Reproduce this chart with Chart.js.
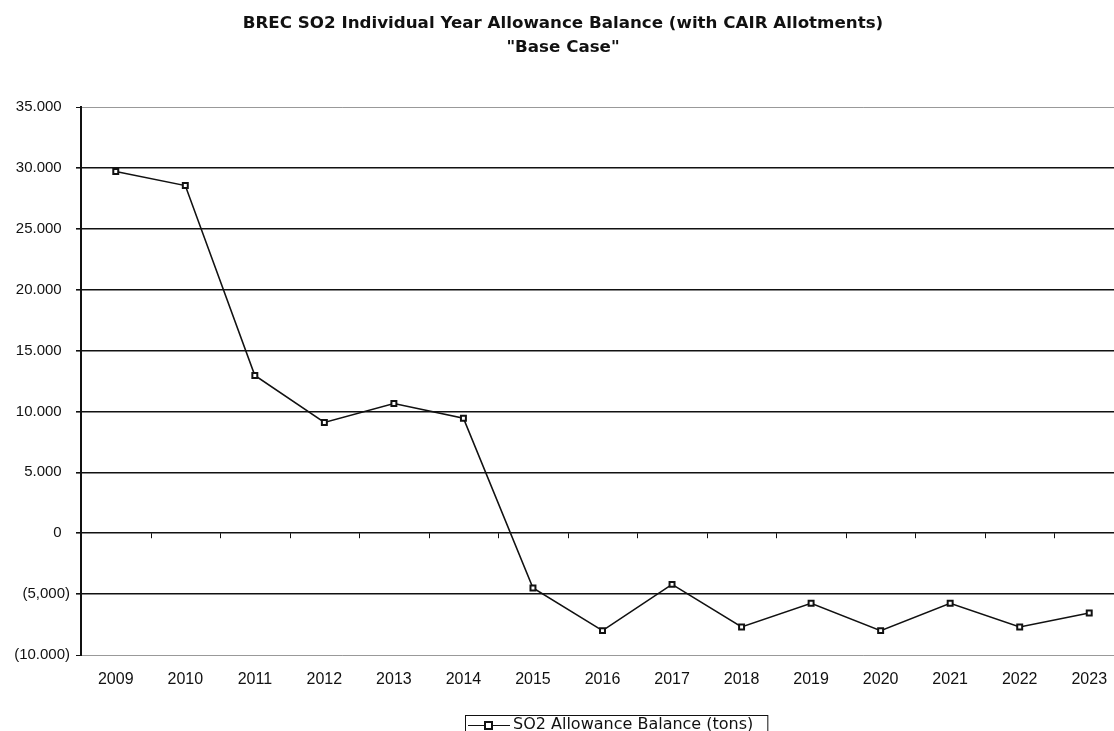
<!DOCTYPE html>
<html><head><meta charset="utf-8">
<script src="https://cdn.jsdelivr.net/npm/chart.js@4"></script>
<style>html,body{margin:0;padding:0;overflow:hidden;background:#fff;width:1114px;height:731px}canvas{display:block}</style>
</head><body>
<canvas id="c" width="1130" height="731" style="width:1130px;height:731px"></canvas>
<script>
const titleLines = ['BREC SO2 Individual Year Allowance Balance (with CAIR Allotments)', '"Base Case"'];
const years = ['2009','2010','2011','2012','2013','2014','2015','2016','2017','2018','2019','2020','2021','2022','2023'];
const balance = [29700, 28550, 12950, 9100, 10650, 9450, -4500, -8000, -4200, -7700, -5750, -8000, -5750, -7700, -6550];
const seriesName = 'SO2 Allowance Balance (tons)';
const yTickValues = [-10000, -5000, 0, 5000, 10000, 15000, 20000, 25000, 30000, 35000];
const yTickLabels = ['(10.000)', '(5,000)', '0  ', '5.000  ', '10.000  ', '15.000  ', '20.000  ', '25.000  ', '30.000  ', '35.000  '];

const FONT = "'Liberation Sans', Arial, sans-serif";
const WIDE = "'DejaVu Sans', 'Liberation Sans', sans-serif";

const extras = {
  id: 'extras',
  afterDraw(chart) {
    const ctx = chart.ctx, a = chart.chartArea, y = chart.scales.y;
    const y0 = y.getPixelForValue(0);
    const n = years.length, w = (a.right - a.left) / n;
    ctx.save();
    ctx.strokeStyle = '#111'; ctx.lineWidth = 1;
    for (let i = 1; i <= n; i++) {
      const px = Math.round(a.left + i * w) + 0.5;
      ctx.beginPath(); ctx.moveTo(px, y0); ctx.lineTo(px, y0 + 5); ctx.stroke();
    }
    // legend (line + square marker, series name, framed)
    const ly = 725, tx = 513;
    ctx.font = '16px ' + WIDE;
    ctx.fillStyle = '#111';
    ctx.textBaseline = 'middle';
    ctx.textAlign = 'left';
    ctx.fillText(seriesName, tx, ly);
    const tw = ctx.measureText(seriesName).width;
    ctx.lineWidth = 1;
    ctx.beginPath(); ctx.moveTo(tx - 45, ly + 0.5); ctx.lineTo(tx - 3, ly + 0.5); ctx.stroke();
    ctx.fillStyle = '#fff';
    ctx.fillRect(tx - 28, ly - 3, 7, 7);
    ctx.lineWidth = 2;
    ctx.strokeRect(tx - 28, ly - 3, 7, 7);
    ctx.lineWidth = 1;
    ctx.strokeRect(tx - 47.5, 715.5, tw + 62, 30);
    ctx.restore();
  }
};

new Chart(document.getElementById('c'), {
  type: 'line',
  data: {
    labels: years,
    datasets: [{
      label: seriesName,
      data: balance,
      borderColor: '#111',
      borderWidth: 1.6,
      tension: 0,
      pointStyle: 'rect',
      pointRadius: 3.5,
      pointBorderWidth: 2,
      pointBackgroundColor: '#fff',
      pointBorderColor: '#111'
    }]
  },
  options: {
    responsive: false,
    animation: false,
    layout: { padding: { left: 0, right: 4, top: 0, bottom: 42 } },
    plugins: {
      title: {
        display: true, text: titleLines, color: '#111',
        font: { family: WIDE, size: 16.7, weight: 'bold', lineHeight: 1.48 },
        padding: { top: 11, bottom: 46.6 }
      },
      legend: { display: false },
      tooltip: { enabled: false }
    },
    scales: {
      x: {
        offset: true,
        afterFit: (s) => { s.height = 34; },
        grid: { display: false, drawTicks: false },
        border: { display: false },
        ticks: { color: '#111', font: { family: FONT, size: 16 }, padding: 15, maxRotation: 0 }
      },
      y: {
        min: -10000, max: 35000,
        afterFit: (s) => { s.width = 81; },
        afterBuildTicks: (s) => { s.ticks = yTickValues.map(v => ({ value: v })); },
        grid: {
          color: (c) => (c.tick && (c.tick.value === 35000 || c.tick.value === -10000)) ? 'rgba(0,0,0,0.4)' : '#111',
          lineWidth: (c) => (c.tick && (c.tick.value === 35000 || c.tick.value === -10000)) ? 1 : 1.6,
          tickColor: '#111', tickLength: 5, drawTicks: true
        },
        border: { display: true, color: '#111', width: 2 },
        ticks: {
          color: '#111', font: { family: FONT, size: 15 }, padding: 6,
          callback: (v) => { const i = yTickValues.indexOf(v); return i >= 0 ? yTickLabels[i] : ''; }
        }
      }
    }
  },
  plugins: [extras]
});
</script>
</body></html>
